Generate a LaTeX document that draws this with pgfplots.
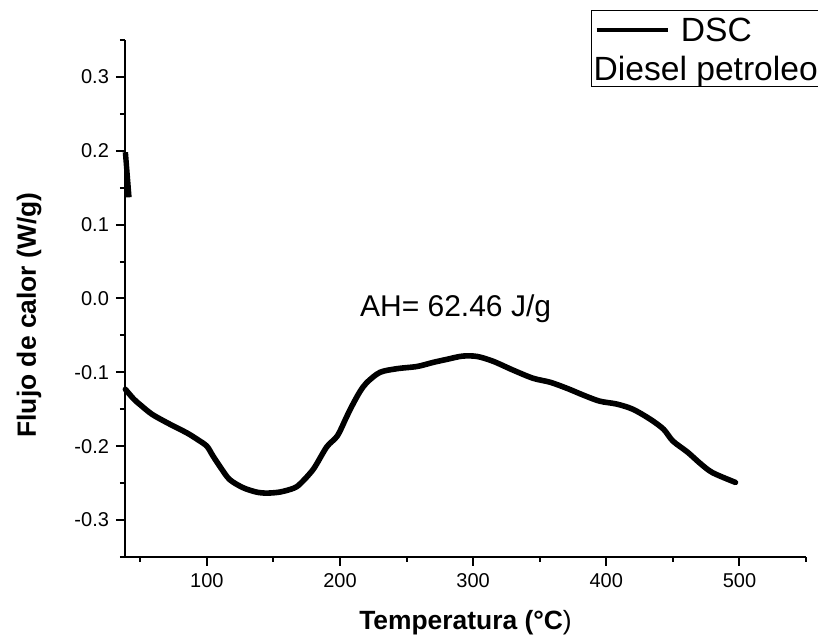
\documentclass[border=0pt]{standalone}
\usepackage{fontspec}
\setmainfont{Liberation Sans}
\usepackage{pgfplots}
\pgfplotsset{compat=1.18}
\begin{document}
\begin{tikzpicture}
\begin{axis}[
 scale only axis, width=340.5pt, height=258.5pt,
 xmin=38.5, xmax=550, ymin=-0.35, ymax=0.35,
 axis lines*=left,
 axis line style={line width=1pt},
 tick align=outside,
 xtick={100,200,300,400,500},
 minor xtick={50,150,250,350,450,550},
 ytick={-0.3,-0.2,-0.1,0,0.1,0.2,0.3},
 yticklabels={-0.3,-0.2,-0.1,0.0,0.1,0.2,0.3},
 minor ytick={-0.35,-0.25,-0.15,-0.05,0.05,0.15,0.25,0.35},
 major tick length=4.5pt, minor tick length=2.5pt,
 every tick/.style={black, line width=1pt},
 tick label style={font=\fontsize{10}{12}\selectfont},
 /pgf/number format/assume math mode=true,
 xlabel={\textbf{Temperatura (°C})},
 ylabel={\textbf{Flujo de calor (W/g)}},
 label style={font=\fontsize{13.2}{15}\selectfont},
 xlabel style={at={(axis description cs:0.5,-0.141)}, anchor=base},
 ylabel style={at={(axis description cs:-0.1307,0.468)}, anchor=base},
 clip=false,
]
\addplot[black, line width=2.8pt, line join=round, line cap=round, smooth, tension=0.5] coordinates {
(38.8,-0.123) (45,-0.136) (50,-0.144) (59,-0.157) (72,-0.170) (85,-0.182)
(93,-0.191) (100,-0.200) (104.5,-0.213) (110,-0.228) (117,-0.245) (127,-0.256)
(137,-0.262) (145,-0.2635) (155,-0.262) (165,-0.257) (170,-0.251) (180,-0.231)
(190,-0.201) (198,-0.186) (205,-0.160) (210,-0.142) (215,-0.126) (220,-0.114)
(230,-0.100) (243,-0.095) (258,-0.092) (270,-0.0865) (280,-0.0825) (292,-0.078)
(303,-0.0785) (315,-0.085) (330,-0.097) (345,-0.108) (358,-0.1135) (371,-0.122)
(383,-0.131) (395,-0.139) (408,-0.143) (420,-0.150) (433,-0.1635) (443,-0.177)
(450,-0.193) (461,-0.208) (471,-0.224) (480,-0.236) (497,-0.249)
};
\addplot[black, line width=2.7pt, line cap=butt] coordinates {(38.8,0.198) (41.5,0.137)};
\node[anchor=base, font=\fontsize{15}{18}\selectfont] at (axis cs:286.8,-0.025) {AH= 62.46 J/g};
\node[anchor=north west, inner sep=0pt,
  minimum width=150pt, minimum height=37.5pt] (L) at (rel axis cs:0.6853,1.0561) {};
\draw[line width=0.5pt] (L.north east) -- (L.north west) -- (L.south west) -- (L.south east);
\node[anchor=base west, inner sep=0pt, font=\fontsize{16.8}{19.5}\selectfont]
  at ([xshift=2.2pt,yshift=-15.4pt]L.north west)
  {\rule[4.75pt]{35.8pt}{2.2pt}\hspace{6.4pt}DSC};
\node[anchor=base west, inner sep=0pt, font=\fontsize{16.8}{19.5}\selectfont]
  at ([xshift=0.8pt,yshift=-34.9pt]L.north west) {Diesel petroleo};
\end{axis}
\pgfresetboundingbox
\path (current axis.south west) ++(-62.5pt,-39pt) rectangle ++(409pt,317.5pt);
\end{tikzpicture}
\end{document}
